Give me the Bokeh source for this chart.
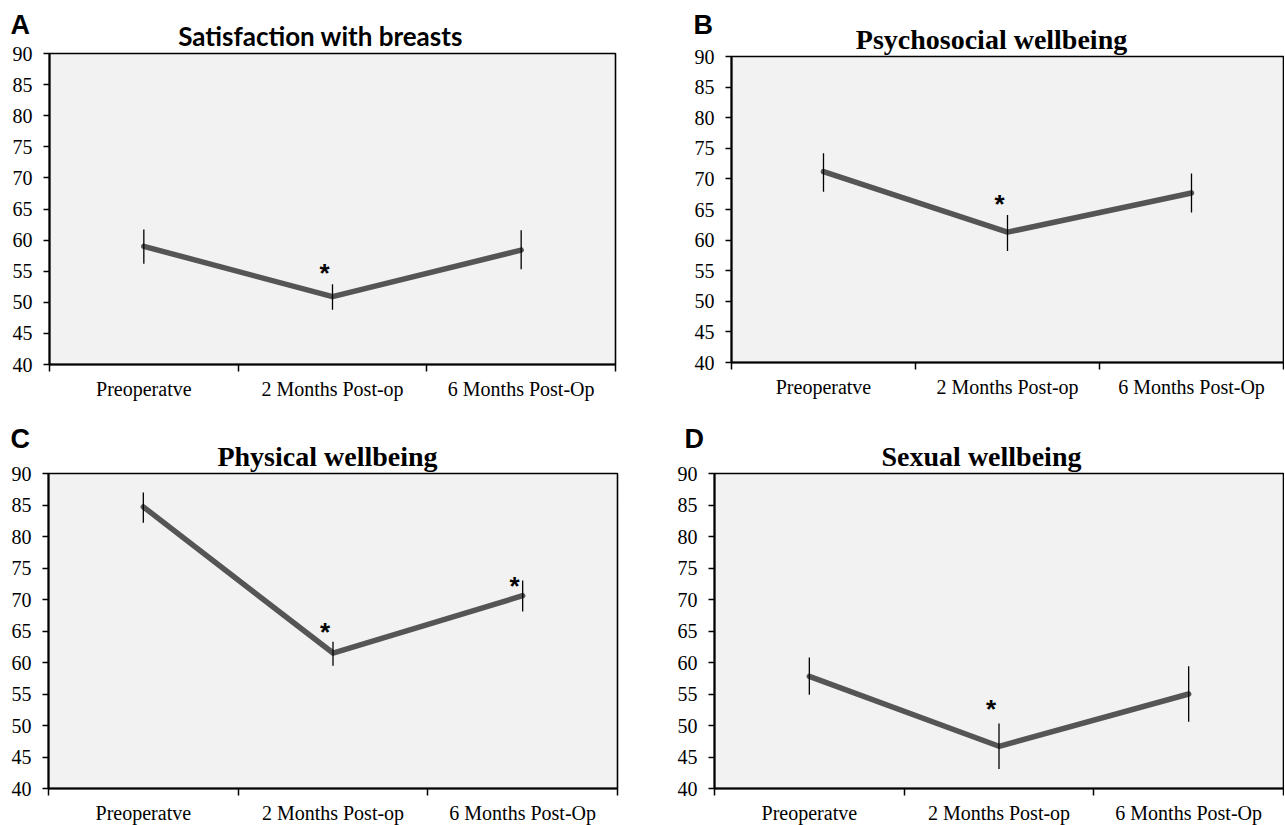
from bokeh.plotting import figure
from bokeh.layouts import column, row
from bokeh.models import FixedTicker, Label, Range1d, BoxAnnotation
from bokeh.core.properties import value
from bokeh.embed import file_html
from bokeh.resources import INLINE

# ---------------- data ----------------
categories = ["Preoperatve", "2 Months Post-op", "6 Months Post-Op"]
y_ticks = [40, 45, 50, 55, 60, 65, 70, 75, 80, 85, 90]
y_min, y_max = 40, 90

sat_mean = [59.0, 50.9, 58.4]
sat_low = [56.2, 48.8, 55.3]
sat_high = [61.7, 52.9, 61.6]
sat_star_cat = [1]
sat_star_val = [55.3]

psy_mean = [71.2, 61.3, 67.7]
psy_low = [67.9, 58.2, 64.5]
psy_high = [74.2, 64.1, 70.9]
psy_star_cat = [1]
psy_star_val = [66.5]

phy_mean = [84.7, 61.5, 70.6]
phy_low = [82.2, 59.5, 68.1]
phy_high = [87.0, 63.3, 73.0]
phy_star_cat = [1, 2]
phy_star_val = [65.4, 72.7]

sex_mean = [57.8, 46.7, 55.0]
sex_low = [54.9, 43.1, 50.6]
sex_high = [60.8, 50.3, 59.4]
sex_star_cat = [1]
sex_star_val = [53.2]

SERIF = "Liberation Serif"
SANS = "Liberation Sans"
LABEL_SHIFT = 9  # screen-label baseline correction (px)


def make_panel(letter, title, title_font, title_size, mean, low, high, star_cat, star_val,
               fig, area, title_pos, letter_pos):
    """fig = (left, top, width, height) on the page; area = plot-area (left, top, right, bottom) on the page."""
    fx, fy, fw, fh = fig
    al, at, ar, ab = area
    n = len(categories)
    ppx = (ar - al) / n
    ppy = (ab - at) / (y_max - y_min)
    x_range = Range1d(-(al - fx) / ppx, n + (fx + fw - ar) / ppx)
    y_range = Range1d(y_min - (fy + fh - ab) / ppy, y_max + (at - fy) / ppy)

    p = figure(output_backend="svg", toolbar_location=None, tools="",
               frame_width=fw, frame_height=fh,
               min_border=0, min_border_left=0, min_border_right=0,
               min_border_top=0, min_border_bottom=0,
               x_range=x_range, y_range=y_range,
               background_fill_color="white", border_fill_color="white",
               outline_line_color=None)
    p.grid.visible = False

    p.add_layout(BoxAnnotation(left=0, right=n, bottom=y_min, top=y_max,
                               fill_color="#f2f2f2", fill_alpha=1.0,
                               line_color="black", line_width=1.6, line_alpha=1.0,
                               level="underlay"))

    xs = [i + 0.5 for i in range(n)]
    p.line(xs, mean, line_color="#555555", line_width=5.5, line_cap="round", line_join="round")
    p.segment(x0=xs, y0=low, x1=xs, y1=high, line_color="black", line_width=1.3)
    p.text(x=[c + 0.5 for c in star_cat], y=star_val, text=["*"] * len(star_cat),
           text_font=value(SANS), text_font_style="bold", text_font_size="26px",
           text_align="center", text_baseline="middle", x_offset=-8, y_offset=4,
           text_color="black")

    xa = p.xaxis[0]
    xa.fixed_location = y_min
    xa.bounds = (0, n)
    xa.ticker = FixedTicker(ticks=xs, minor_ticks=list(range(n + 1)))
    xa.major_label_overrides = {x: c for x, c in zip(xs, categories)}
    xa.major_tick_out = 0
    xa.major_tick_in = 0
    xa.minor_tick_out = 7
    xa.minor_tick_in = 0
    xa.minor_tick_line_width = 1.5
    xa.minor_tick_line_color = "black"
    xa.axis_line_width = 2.2
    xa.axis_line_color = "black"
    xa.major_label_text_font = SERIF
    xa.major_label_text_font_size = "20px"
    xa.major_label_text_color = "black"
    xa.major_label_standoff = 6

    ya = p.yaxis[0]
    ya.fixed_location = 0
    ya.bounds = (y_min, y_max)
    ya.ticker = FixedTicker(ticks=y_ticks, minor_ticks=[])
    ya.major_tick_out = 6
    ya.major_tick_in = 0
    ya.major_tick_line_width = 1.5
    ya.major_tick_line_color = "black"
    ya.axis_line_width = 2
    ya.axis_line_color = "black"
    ya.major_label_text_font = SERIF
    ya.major_label_text_font_size = "20px"
    ya.major_label_text_color = "black"
    ya.major_label_standoff = 11

    tx, tb = title_pos
    lx, lb = letter_pos
    p.add_layout(Label(x=tx - fx, y=fy + fh - tb + LABEL_SHIFT, x_units="screen", y_units="screen",
                       text=title, text_font=title_font, text_font_size=title_size,
                       text_font_style="bold", text_align="center", text_baseline="alphabetic",
                       text_color="black"))
    p.add_layout(Label(x=lx - fx, y=fy + fh - lb + LABEL_SHIFT, x_units="screen", y_units="screen",
                       text=letter, text_font=SANS, text_font_size="27px",
                       text_font_style="bold", text_align="left", text_baseline="alphabetic",
                       text_color="black"))
    return p


pA = make_panel("A", "Satisfaction with breasts", "Lato", "26px",
                sat_mean, sat_low, sat_high, sat_star_cat, sat_star_val,
                (0, 0, 648, 418), (49, 53, 615, 364), (320, 44.5), (10, 33))
pB = make_panel("B", "Psychosocial wellbeing", SERIF, "28px",
                psy_mean, psy_low, psy_high, psy_star_cat, psy_star_val,
                (648, 0, 636, 418), (731, 56, 1283, 362), (991, 47.7), (693, 33))
pC = make_panel("C", "Physical wellbeing", SERIF, "28px",
                phy_mean, phy_low, phy_high, phy_star_cat, phy_star_val,
                (0, 418, 648, 407), (48, 473, 617, 788), (327, 465), (10, 447))
pD = make_panel("D", "Sexual wellbeing", SERIF, "28px",
                sex_mean, sex_low, sex_high, sex_star_cat, sex_star_val,
                (648, 418, 636, 407), (714, 473, 1283, 788), (981, 465), (684, 447))

layout = column(row(pA, pB), row(pC, pD))
open("out.html", "w").write(file_html(layout, INLINE))
